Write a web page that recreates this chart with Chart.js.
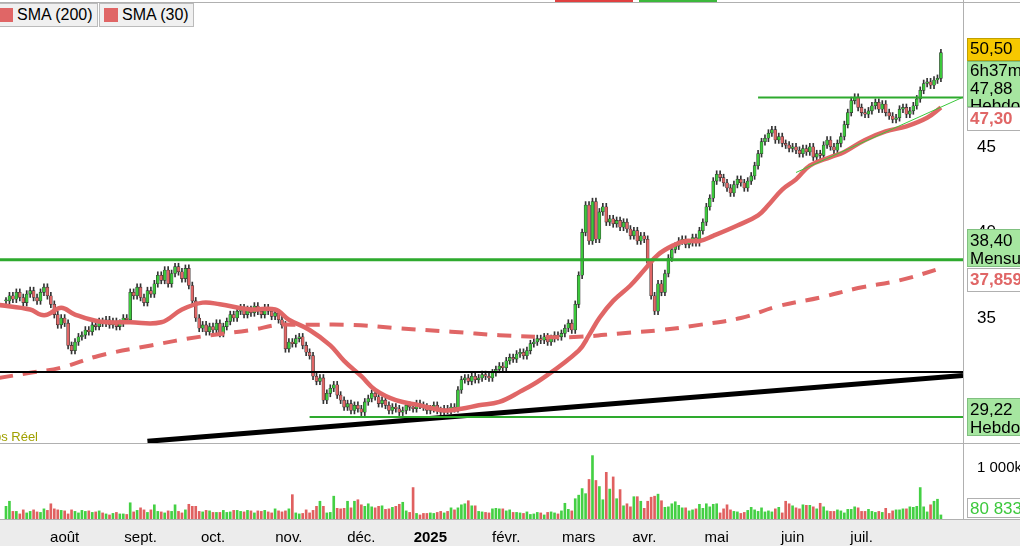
<!DOCTYPE html>
<html><head><meta charset="utf-8">
<script src="https://cdn.jsdelivr.net/npm/chart.js@4.4.1/dist/chart.umd.min.js"></script>
<style>
html,body{margin:0;padding:0;background:#fff;width:1020px;height:546px;overflow:hidden;font-family:"Liberation Sans",Arial,sans-serif}
#p{position:absolute;left:0;top:0}
#v{position:absolute;left:0;top:446px}
.lg{position:absolute;top:3px;height:22px;border:1px solid #bbb;background:#f0f0f0;font-size:16px;line-height:22px;padding:0 4px 0 0;color:#000;white-space:nowrap}
.lg i{display:inline-block;width:14px;height:14px;background:#e06666;margin:0 4px 0 4px;vertical-align:-2px}
.tab{position:absolute;top:0;height:2px}
</style></head><body>
<canvas id="p" width="1020" height="446"></canvas>
<canvas id="v" width="1020" height="100"></canvas>
<div class="lg" style="left:-6px"><i></i>SMA (200)</div>
<div class="lg" style="left:99px"><i></i>SMA (30)</div>
<div class="tab" style="left:555px;width:78px;background:#e04040"></div>
<div class="tab" style="left:639px;width:78px;background:#3cb83c"></div>
<script>
const closes=[
36.0,36.3,36.1,36.5,36.2,35.9,36.4,36.6,36.2,36.0,
36.5,36.8,36.3,35.8,35.2,34.6,35.0,34.7,33.4,33.1,
33.6,33.9,34.0,34.3,34.2,34.6,34.5,34.8,34.7,34.9,
34.6,34.8,34.5,34.7,35.0,34.9,36.5,36.3,36.8,36.2,
35.9,36.6,36.4,37.0,37.5,37.2,37.8,37.0,37.6,38.0,
37.7,37.3,37.9,36.9,36.0,35.0,34.4,34.6,34.2,34.5,
34.3,34.7,34.1,34.5,34.8,35.2,35.0,35.4,35.6,35.2,
35.5,35.3,35.7,35.4,35.2,35.6,35.4,35.1,35.3,34.9,
34.6,33.2,33.6,33.5,33.8,33.9,33.4,33.0,32.8,31.6,
31.3,31.5,30.2,30.6,30.9,31.1,30.5,30.2,29.8,30.0,
29.6,29.9,29.7,29.5,30.1,30.3,30.6,30.4,30.0,30.2,
29.9,29.6,29.8,29.7,29.5,29.6,29.9,29.8,29.7,30.0,
29.9,29.8,29.6,29.7,29.9,29.6,29.5,29.7,29.6,29.8,
29.7,30.8,31.4,31.5,31.3,31.6,31.4,31.5,31.7,31.6,
31.5,31.8,32.0,32.2,32.1,32.5,32.7,32.6,32.9,33.0,
32.8,33.1,33.5,33.6,33.8,33.7,33.9,33.6,33.8,34.0,
33.9,34.1,34.4,34.7,34.3,35.8,37.5,40.0,41.6,39.5,
41.8,39.6,41.2,41.5,40.6,40.8,40.5,40.7,40.3,40.6,
40.2,39.8,40.1,39.5,39.8,39.6,38.2,36.3,35.4,37.0,
36.5,37.6,38.5,39.0,39.2,39.5,39.6,39.3,39.4,39.7,
39.4,40.1,40.6,41.5,42.0,43.0,43.4,43.2,42.9,42.6,
42.3,42.8,43.1,42.9,42.6,43.0,43.3,43.9,44.6,45.3,
45.5,45.8,46.0,45.4,45.6,45.2,45.1,44.9,45.0,44.8,
44.6,44.9,44.7,45.0,44.4,44.6,44.5,45.1,45.4,45.0,
44.8,45.2,45.6,46.3,47.0,47.7,47.9,47.3,47.0,46.9,
47.1,47.4,47.6,47.2,47.5,47.0,46.8,46.6,46.7,47.2,
47.3,46.9,47.1,47.4,47.8,48.3,48.7,48.8,48.6,48.9,
49.0,50.5];
const volumes=[
250,350,150,150,100,180,120,150,180,140,130,200,170,300,200,180,170,160,100,180,
150,120,170,150,160,130,140,160,120,100,80,110,130,100,100,90,320,140,170,220,
180,130,180,280,150,140,120,160,150,280,150,120,180,290,250,250,150,140,170,160,
130,130,130,170,130,140,170,170,150,140,170,160,120,160,150,170,140,120,200,160,
140,160,200,480,120,100,110,180,120,170,250,350,250,120,130,450,210,200,210,350,
220,350,380,280,250,300,240,220,250,260,190,200,230,250,290,330,160,130,620,110,
80,110,110,120,110,130,150,120,150,220,180,220,280,300,360,260,260,150,140,130,
120,200,210,200,200,160,180,130,130,120,110,140,90,100,130,120,80,130,140,120,
100,160,310,190,160,400,470,600,500,780,1250,760,640,380,920,590,830,400,580,260,
300,240,440,440,350,210,350,430,450,490,360,230,240,300,340,270,220,220,160,180,
200,290,210,300,240,290,300,120,200,280,180,150,140,110,130,170,230,180,150,220,
140,160,140,200,230,120,350,300,260,220,200,280,270,270,240,200,310,240,160,150,
150,180,160,120,190,190,240,220,150,150,190,150,130,150,130,210,110,160,180,180,
200,200,240,230,250,620,240,140,280,350,390,80];
const sma30Idx=[-2,7,10,12,16,20,27,36,45,51,57,62,71,78,82,88,94,98,103,107,113,120,127,132,137,143,149,155,166,169,172,176,181,185,189,194,197,201,205,212,218,221,225,229,233,239,243,249,255,261,267,271];
const sma30Val=[35.76,35.5,35.2,35.2,35.6,35.2,34.8,34.75,34.75,35.5,35.9,35.8,35.5,35.5,34.9,34.3,33.4,32.5,31.6,30.8,30.2,29.9,29.6,29.7,29.9,30.1,30.7,31.4,33.1,34.0,35.0,36.0,36.9,37.8,38.7,39.3,39.5,39.5,39.8,40.4,41.0,41.6,42.5,43.1,43.9,44.4,44.7,45.4,45.9,46.2,46.7,47.3];
const sma200Idx=[-2,7,16,27,42,56,71,79,85,100,114,129,143,155,166,178,190,201,213,224,236,247,259,271];
const sma200Val=[31.5,31.8,32.1,32.8,33.4,33.9,34.3,34.6,34.6,34.6,34.4,34.2,34.0,33.9,33.9,34.1,34.3,34.6,35.0,35.7,36.2,36.75,37.2,37.9];
const monthIdx=[17,39,60,82,103,123,145,166,185,206,228,248];
const monthLbl=["août","sept.","oct.","nov.","déc.","2025","févr.","mars","avr.","mai","juin","juil."];
const levels={h4788:47.88,m3840:38.40,h2922:29.22,blackH:31.84};
const trendBlack=[[41,27.8],[277.4,31.65]];
const trendGreen=[[229,43.5],[277.4,47.9]];
const priceTicks=[35,40,45,50];

const N=closes.length;
const opens=closes.map((c,i)=>i?closes[i-1]:c);
const up=closes.map((c,i)=>c>=opens[i]);
const GREEN='#3cc83c',RED='#e06666';
const XMIN=-1.74,XMAX=277.4;

const wick=closes.map((c,i)=>({x:i,y:[Math.min(c,opens[i])-0.2,Math.max(c,opens[i])+0.2]}));
const body=closes.map((c,i)=>{let a=opens[i],b=c;if(Math.abs(a-b)<0.06){b=a+0.06;}return {x:i,y:[a,b]};});
const pts=(I,V)=>I.map((x,k)=>({x,y:V[k]}));

const rightW=57;
const fitY=ax=>{ax.width=rightW;ax.paddingTop=0;ax.paddingBottom=0;};

const overlay={id:'ov',afterDraw(ch){
 const c=ch.ctx,ca=ch.chartArea;
 c.save();
 c.strokeStyle='#b0b0b0';c.lineWidth=1;
 c.beginPath();c.moveTo(0,ca.top-0.5);c.lineTo(1020,ca.top-0.5);c.moveTo(ca.right+0.5,0);c.lineTo(ca.right+0.5,446);c.moveTo(0,ca.bottom+0.5);c.lineTo(1020,ca.bottom+0.5);c.stroke();
 c.fillStyle='#a0a000';c.font='13px "Liberation Sans",Arial';c.textBaseline='middle';c.textAlign='right';c.fillText('Temps Réel',38,437);
 c.textAlign='left';
 const box=(y0,h,bg,border)=>{c.fillStyle=bg;c.fillRect(967,y0,60,h);c.strokeStyle=border;c.lineWidth=1;c.strokeRect(967.5,y0+0.5,60,h-1);};
 const txt=(t,y,col,b)=>{c.fillStyle=col;c.font=(b?'bold ':'')+'17px "Liberation Sans",Arial';c.fillText(t,970,y);};
 box(38,23,'#f6c800','#c0a000');txt('50,50',49.5,'#000');
 box(61,46,'#a6e6a0','#80c080');txt('6h37m',71,'#000');txt('47,88',89,'#000');
 c.save();c.beginPath();c.rect(967,61,60,46);c.clip();txt('Hebdom',106,'#000');c.restore();
 box(107,24,'#ffffff','#b0b0b0');txt('47,30',119,RED,true);
 box(229,38,'#a6e6a0','#80c080');txt('38,40',241,'#000');txt('Mensuel',259,'#000');
 box(268,24,'#ffffff','#b0b0b0');txt('37,859',280,RED,true);
 box(398,38,'#a6e6a0','#80c080');txt('29,22',410,'#000');txt('Hebdom',428,'#000');
 c.restore();
}};

const hline=(v,x0,col,w)=>({type:'line',data:[{x:x0,y:v},{x:XMAX,y:v}],borderColor:col,borderWidth:w,pointRadius:0,order:0});
new Chart(document.getElementById('p'),{
 data:{datasets:[
  hline(levels.m3840,XMIN,'#2eaa2e',3),
  hline(levels.h2922,88,'#2eaa2e',2),
  hline(levels.h4788,218,'#2eaa2e',2),
  hline(levels.blackH,XMIN,'#000',2),
  {type:'line',data:trendBlack.map(p=>({x:p[0],y:p[1]})),borderColor:'#000',borderWidth:5,pointRadius:0,order:0},
  {type:'line',data:trendGreen.map(p=>({x:p[0],y:p[1]})),borderColor:'#3cc83c',borderWidth:1,pointRadius:0,order:0},
  {type:'line',data:pts(sma200Idx,sma200Val),borderColor:RED,borderWidth:4,borderDash:[14,10],pointRadius:0,tension:0.4,order:1},
  {type:'line',data:pts(sma30Idx,sma30Val),borderColor:RED,borderWidth:4.5,pointRadius:0,tension:0.4,order:1},
  {type:'bar',data:wick,backgroundColor:'#333',barThickness:1,grouped:false,order:3},
  {type:'bar',data:body,backgroundColor:up.map(u=>u?GREEN:RED),borderColor:'#333',borderWidth:0.6,borderSkipped:false,barThickness:3,grouped:false,order:2}
 ]},
 options:{responsive:false,animation:false,events:[],
  layout:{padding:{top:3,bottom:3,left:0,right:0}},
  plugins:{legend:{display:false},tooltip:{enabled:false}},
  scales:{
   x:{type:'linear',min:XMIN,max:XMAX,offset:false,display:false},
   y:{position:'right',min:27.7,max:53.4,afterFit:fitY,grid:{display:false},border:{display:false},
      afterBuildTicks:a=>{a.ticks=priceTicks.map(v=>({value:v}));},
      ticks:{color:'#000',font:{size:17,family:'"Liberation Sans",Arial'},padding:6,callback:v=>String(v)}}
  }},
 plugins:[overlay]
});

const volOv={id:'vo',beforeDraw(ch){const c=ch.ctx,ca=ch.chartArea;c.save();c.fillStyle='#ececec';c.fillRect(0,0,1020,100);c.fillStyle='#fff';c.fillRect(0,0,1020,ca.bottom);c.restore();},
 afterDraw(ch){const c=ch.ctx,ca=ch.chartArea;c.save();c.strokeStyle='#b0b0b0';c.beginPath();c.moveTo(ca.right+0.5,0);c.lineTo(ca.right+0.5,ca.bottom);c.moveTo(0,ca.bottom+0.5);c.lineTo(1020,ca.bottom+0.5);c.stroke();
 c.fillStyle='#fff';c.fillRect(967,52,56,20);c.strokeStyle='#b0b0b0';c.strokeRect(967.5,52.5,56,19);
 c.fillStyle='#3cc83c';c.font='17px "Liberation Sans",Arial';c.textBaseline='middle';c.fillText('80 833',970,63);c.restore();}};
new Chart(document.getElementById('v'),{
 type:'bar',
 data:{datasets:[{data:volumes.map((v,i)=>({x:i,y:v})),backgroundColor:up.map(u=>u?'#44d044':'#e06060'),barThickness:2,grouped:false}]},
 options:{responsive:false,animation:false,events:[],
  layout:{padding:{top:1,bottom:0,left:0,right:0}},
  plugins:{legend:{display:false},tooltip:{enabled:false}},
  scales:{
   x:{type:'linear',min:XMIN,max:XMAX,offset:false,grid:{display:false},border:{display:false},
      afterBuildTicks:a=>{a.ticks=monthIdx.map(v=>({value:v}));},
      afterFit:a=>{a.height=27;a.paddingLeft=0;a.paddingRight=0;},
      ticks:{autoSkip:false,maxRotation:0,padding:2,color:'#000',
        font:c=>({size:15,family:'"Liberation Sans",Arial',weight:(c.tick&&monthLbl[monthIdx.indexOf(c.tick.value)]==='2025')?'bold':'normal'}),
        callback:v=>monthLbl[monthIdx.indexOf(v)]}},
   y:{position:'right',min:0,max:1420,afterFit:fitY,grid:{display:false},border:{display:false},
      afterBuildTicks:a=>{a.ticks=[{value:1000}];},
      ticks:{color:'#000',font:{size:15,family:'"Liberation Sans",Arial'},padding:6,callback:()=>'1 000k'}}
  }},
 plugins:[volOv]
});
</script></body></html>
